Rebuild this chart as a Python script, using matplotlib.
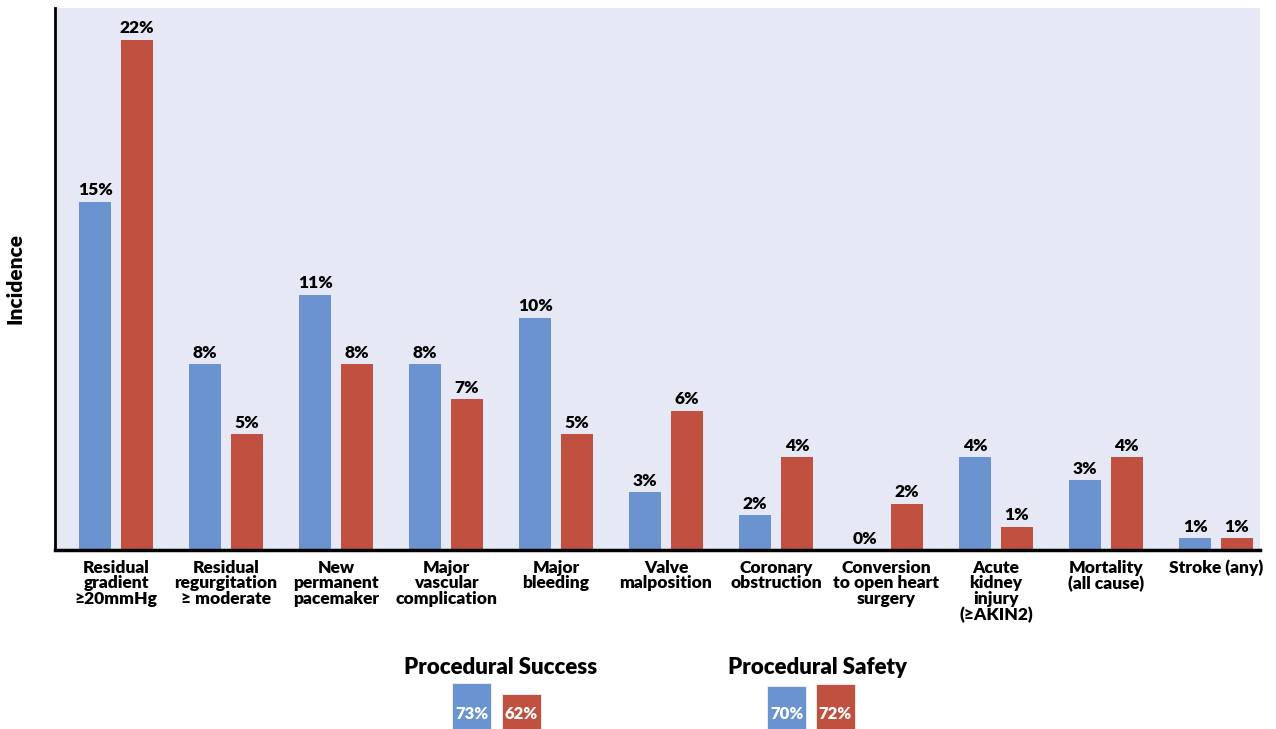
import matplotlib.pyplot as plt
import numpy as np

plt.rcParams['font.family'] = ['Lato', 'DejaVu Sans']

categories = ['Residual\ngradient\n≥20mmHg', 'Residual\nregurgitation\n≥ moderate',
              'New\npermanent\npacemaker', 'Major\nvascular\ncomplication',
              'Major\nbleeding', 'Valve\nmalposition', 'Coronary\nobstruction',
              'Conversion\nto open heart\nsurgery', 'Acute\nkidney\ninjury\n(≥AKIN2)',
              'Mortality\n(all cause)', 'Stroke (any)']
success = [15, 8, 11, 8, 10, 2.5, 1.5, 0, 4, 3, 0.5]
safety = [22, 5, 8, 6.5, 5, 6, 4, 2, 1, 4, 0.5]

overall_titles = ['Procedural Success', 'Procedural Safety']
overall_success = [73, 70]
overall_safety = [62, 72]

BLUE = '#6a93d0'
RED = '#c0503f'
BG = '#e6e9f5'

def pct(v):
    return '%d%%' % int(v + 0.5)

fig = plt.figure(figsize=(12.76, 7.29), dpi=100)
W, H = 1276., 729.

ax = fig.add_axes([55 / W, 1 - 550 / H, (1260 - 55) / W, (550 - 8) / H])
ax.set_facecolor(BG)
x = np.arange(len(categories))
w = 0.29
off = 0.19
b1 = ax.bar(x - off, success, w, color=BLUE)
b2 = ax.bar(x + off, safety, w, color=RED)
for bars, vals in ((b1, success), (b2, safety)):
    for r, v in zip(bars, vals):
        ax.text(r.get_x() + r.get_width() / 2, v + 0.15, pct(v), ha='center', va='bottom',
                fontsize=12.5, fontweight='heavy', color='black')

ax.set_xlim(-0.555, 10.4)
ax.set_ylim(0, 23.36)
ax.set_xticks(x)
ax.set_xticklabels(categories, fontsize=12.5, fontweight='heavy', linespacing=0.98, va='top')
ax.tick_params(axis='x', length=0, pad=7)
ax.set_yticks([])
for s in ('top', 'right'):
    ax.spines[s].set_visible(False)
ax.spines['left'].set_linewidth(2)
ax.spines['bottom'].set_linewidth(2.5)
ax.set_ylabel('Incidence', fontsize=15, fontweight='heavy', labelpad=22)

# overall endpoints, drawn as small bars cut off by the figure edge
lefts = [446, 762]
centers = [501, 818]
for i in range(2):
    sub = fig.add_axes([lefts[i] / W, 0, 100 / W, 50 / H])
    sub.set_xlim(0, 100)
    sub.set_ylim(27, 77)
    sub.axis('off')
    vals = [overall_success[i], overall_safety[i]]
    xs = [25.5, 75.5] if i == 0 else [25, 73.5]
    sub.bar(xs, vals, 39, color=[BLUE, RED], edgecolor='#f2f2f2', linewidth=0.6)
    for xx, v in zip(xs, vals):
        sub.text(xx, 42, '%d%%' % v, ha='center', va='center', color='white',
                 fontsize=12, fontweight='heavy')
    fig.text(centers[i] / W, 1 - 667 / H, overall_titles[i], ha='center', va='center',
             fontsize=16, fontweight='heavy')

fig.savefig('out.png', dpi=100)
